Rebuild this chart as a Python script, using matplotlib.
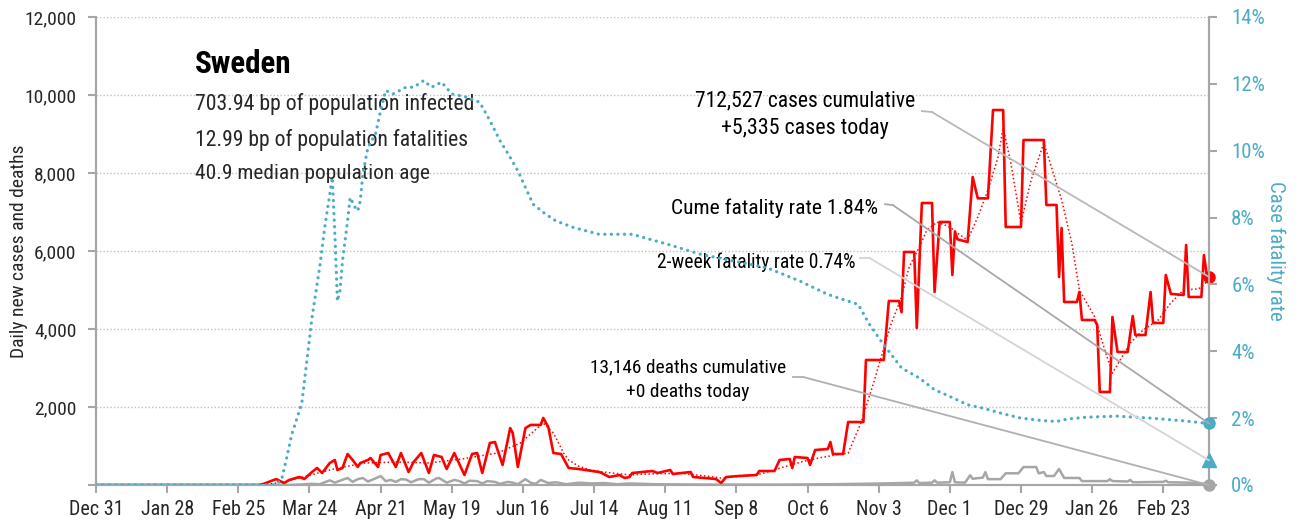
import matplotlib
matplotlib.use("Agg")
import matplotlib.pyplot as plt
import matplotlib.font_manager as fm
import matplotlib.dates as mdates
from matplotlib.patches import ConnectionPatch
import pandas as pd
import numpy as np

# ---------------- data (days since Dec 31, 2019) ----------------
start = pd.Timestamp("2019-12-31")
end_day = 438

case_days = [0, 64, 66, 70, 71, 74, 76, 80, 82, 85, 87, 89, 92, 94, 95, 97, 99, 101, 103, 104, 107, 108,
             111, 112, 115, 118, 120, 123, 125, 128, 131, 133, 136, 138, 141, 145, 148, 150, 152, 155,
             157, 160, 163, 164, 166, 169, 171, 175, 176, 178, 180, 183, 186, 190, 198, 199, 202, 206,
             208, 210, 211, 219, 221, 226, 227, 234, 235, 244, 246, 248, 253, 260, 261, 267, 269, 273,
             274, 275, 280, 281, 283, 288, 289, 290, 294, 296, 302, 303, 310, 312, 316, 317, 318, 322,
             323, 325, 329, 330, 332, 336, 337, 338, 339, 343, 345, 347, 351, 353, 357, 358, 364, 365,
             373, 374, 378, 379, 380, 381, 386, 387, 388, 393, 394, 395, 399, 400, 402, 406, 408, 409,
             413, 415, 416, 420, 421, 423, 428, 429, 430, 435, 436, 437, 438]
case_vals = [0, 0, 30, 130, 150, 50, 128, 205, 154, 333, 436, 308, 564, 641, 385, 436, 795, 641, 462, 564,
             641, 692, 462, 769, 820, 462, 820, 333, 590, 820, 308, 769, 718, 410, 820, 256, 795, 820, 308,
             1077, 1102, 513, 1460, 1333, 462, 1460, 1540, 1540, 1720, 1487, 820, 795, 436, 410, 333, 308,
             205, 256, 180, 205, 308, 359, 308, 385, 282, 333, 205, 154, 50, 205, 231, 256, 359, 359, 641,
             667, 436, 718, 692, 513, 897, 923, 1102, 795, 795, 1615, 1615, 3205, 3205, 4718, 4718, 4430,
             5974, 5974, 4026, 7230, 7230, 4949, 6744, 6744, 5385, 6500, 6300, 6231, 7897, 7350, 7350, 9615,
             9615, 6615, 6615, 8846, 8846, 7180, 7180, 5333, 6590, 4692, 4692, 4950, 4231, 4231, 4100, 2385,
             2385, 4308, 3410, 3410, 4333, 3846, 3846, 4949, 4154, 4154, 5385, 4900, 4872, 6154, 4821, 4821,
             5897, 5450, 5335]

avg_days = [0, 64, 70, 75, 83, 92, 105, 118, 131, 144, 158, 167, 176, 180, 184, 186, 190, 195, 200, 210,
            220, 230, 240, 246, 255, 262, 270, 278, 285, 292, 296, 301, 306, 309, 313, 317, 320, 324, 327,
            331, 336, 339, 343, 347, 351, 355, 357, 360, 364, 368, 373, 376, 380, 384, 387, 393, 397, 400,
            403, 407, 412, 418, 423, 428, 434, 438]
avg_vals = [0, 0, 40, 100, 230, 385, 560, 590, 564, 667, 820, 1077, 1590, 1333, 820, 640, 480, 380, 330,
            260, 290, 300, 230, 180, 230, 290, 450, 600, 700, 780, 820, 1590, 2615, 3280, 4150, 4820, 5590,
            6100, 6540, 6740, 6615, 6460, 6280, 6870, 7560, 8410, 9180, 8260, 6720, 7820, 8770, 8150, 7310,
            6200, 5000, 4310, 3460, 2870, 3200, 3640, 3970, 4230, 4670, 5000, 5030, 5260]

death_days = [0, 75, 80, 85, 88, 92, 94, 96, 99, 101, 103, 105, 107, 110, 112, 114, 116, 118, 120, 122,
              124, 127, 129, 131, 134, 135, 138, 141, 143, 145, 147, 150, 152, 154, 157, 159, 162, 164,
              166, 169, 171, 173, 175, 178, 181, 185, 190, 195, 200, 205, 210, 220, 230, 240, 250, 260,
              270, 280, 290, 300, 310, 317, 322, 323, 324, 329, 330, 331, 336, 337, 338, 342, 344, 345,
              349, 350, 351, 356, 358, 363, 365, 370, 371, 373, 374, 377, 379, 381, 387, 388, 398, 399,
              400, 406, 407, 408, 420, 421, 422, 430, 437, 438]
death_vals = [0, 0, 10, 30, 20, 120, 60, 110, 180, 80, 150, 180, 90, 170, 230, 100, 130, 80, 150, 140,
              70, 150, 150, 60, 170, 180, 60, 130, 100, 40, 110, 100, 40, 100, 80, 30, 80, 60, 20, 150,
              60, 30, 130, 50, 70, 20, 60, 40, 50, 20, 40, 20, 15, 10, 10, 10, 10, 15, 20, 30, 40, 50, 60,
              120, 50, 60, 120, 60, 70, 330, 70, 60, 250, 160, 190, 330, 150, 150, 300, 300, 460, 460, 300,
              330, 230, 230, 410, 180, 180, 100, 100, 150, 100, 90, 130, 70, 80, 110, 70, 60, 30, 0]

cfr_days = [0, 70, 73, 75, 77, 81, 85, 88, 90, 92, 93, 94, 95, 96, 97, 99, 100, 102, 103, 104, 105, 107,
            110, 112, 114, 117, 122, 125, 129, 132, 136, 140, 146, 151, 155, 159, 163, 166, 172, 177, 181,
            188, 198, 211, 225, 238, 251, 264, 277, 288, 300, 304, 309, 317, 324, 330, 336, 343, 349, 356,
            364, 372, 378, 382, 390, 402, 415, 428, 438]
cfr_vals = [0, 0, 0.15, 0.8, 1.5, 2.45, 5.0, 6.5, 7.7, 8.7, 9.2, 7.5, 5.5, 5.8, 6.7, 7.9, 8.6, 8.3, 8.2,
            8.5, 9.3, 10.1, 10.5, 11.2, 11.8, 11.7, 11.9, 11.9, 12.1, 11.9, 12.05, 11.7, 11.6, 11.45, 10.9,
            10.3, 9.8, 9.4, 8.4, 8.1, 7.9, 7.7, 7.5, 7.5, 7.2, 6.9, 6.7, 6.5, 6.1, 5.7, 5.4, 4.85, 4.3, 3.5,
            3.2, 2.85, 2.65, 2.4, 2.3, 2.15, 2.0, 1.93, 1.9, 1.97, 2.03, 2.06, 2.0, 1.92, 1.84]

two_week_cfr = 0.74
country = "Sweden"
stats = ["703.94 bp of population infected",
         "12.99 bp of population fatalities",
         "40.9 median population age"]
cases_text = ["712,527 cases cumulative", "+5,335 cases today"]
deaths_text = ["13,146 deaths cumulative", "+0 deaths today"]
cume_text = "Cume fatality rate 1.84%"
twoweek_text = "2-week fatality rate 0.74%"

tick_days = list(range(0, 421, 28))

# ---------------- style ----------------
names = {f.name for f in fm.fontManager.ttflist}
cond = [f.name for f in fm.fontManager.ttflist
        if str(f.stretch) in ("condensed", "semi-condensed", "extra-condensed", "ultra-condensed")
        or "Condensed" in f.name or "Narrow" in f.name]
FONT = "DejaVu Sans"
for cand in ["Roboto Condensed", "Liberation Sans Narrow", "Open Sans Condensed",
             "Noto Sans Condensed", "DejaVu Sans Condensed"]:
    if cand in names:
        FONT = cand
        break
else:
    if cond:
        FONT = sorted(cond)[0]
plt.rcParams["font.family"] = [FONT, "DejaVu Sans"]

RED = "#FF0000"
BLUE = "#4BACC6"
GRAY = "#A6A6A6"
TXT = "#262626"

def to_dates(days):
    return start + pd.to_timedelta(days, unit="D")

W, H = 1308, 524
fig = plt.figure(figsize=(W / 100, H / 100), dpi=100)
ax = fig.add_axes([96 / W, 1 - 485 / H, 1113 / W, 468 / H])
ax2 = ax.twinx()

ax.plot(to_dates(death_days), death_vals, color=GRAY, lw=1.8, zorder=3)
ax.plot(to_dates(avg_days), avg_vals, color=RED, lw=1.1, ls=(0, (1, 1.6)), zorder=4)
ax.plot(to_dates(case_days), case_vals, color=RED, lw=1.9, zorder=5)
ax2.plot(to_dates(cfr_days), cfr_vals, color=BLUE, lw=2.3, ls=(0, (0.05, 2.0)),
         dash_capstyle="round", zorder=4)

end_date = to_dates([end_day])[0]
end_num = mdates.date2num(end_date)
ax.plot([end_date], [case_vals[-1]], "o", color=RED, ms=8, zorder=6, clip_on=False)
ax.plot([end_date], [death_vals[-1]], "o", color=GRAY, ms=8, zorder=6, clip_on=False)
ax2.plot([end_date], [cfr_vals[-1]], "o", color=BLUE, ms=8, zorder=6, clip_on=False)
ax2.plot([end_date], [two_week_cfr], "^", color=BLUE, ms=10, zorder=6, clip_on=False)

ax.set_xlim(start, end_date)
ax.set_ylim(0, 12000)
ax2.set_ylim(0, 14)

ax.set_yticks(range(0, 12001, 2000))
ax.set_yticklabels([""] + [f"{v:,}" for v in range(2000, 12001, 2000)])
ax2.set_yticks(range(0, 15, 2))
ax2.set_yticklabels([f"{v}%" for v in range(0, 15, 2)])
tick_dates = to_dates(tick_days)
ax.set_xticks(tick_dates)
ax.set_xticklabels([f"{d:%b} {d.day}" for d in tick_dates])

ax.grid(axis="y", linestyle=(0, (1, 1.5)), color="#BFBFBF", lw=1)
ax.set_axisbelow(True)
for a in (ax, ax2):
    a.spines["top"].set_visible(False)
    for s in ("left", "right", "bottom"):
        a.spines[s].set_color(GRAY)
        a.spines[s].set_linewidth(1.5)
ax.tick_params(axis="x", colors=GRAY, labelcolor=TXT, labelsize=14.5, length=6, width=1.5, pad=5)
ax.tick_params(axis="y", colors=GRAY, labelcolor=TXT, labelsize=14, length=6, width=1.5, pad=8)
ax2.tick_params(axis="y", colors=GRAY, labelcolor=BLUE, labelsize=15, length=6, width=1.5, pad=10)

ax.set_ylabel("Daily new cases and deaths", fontsize=14, color=TXT)
ax.yaxis.set_label_coords(-0.061, 0.5)
ax2.set_ylabel("Case fatality rate", fontsize=15, color=BLUE, rotation=270, labelpad=15)

# ---------------- text ----------------
renderer = fig.canvas.get_renderer()

def fit_text(x, y, s, width_px, max_size, **kw):
    t = ax.text(x, y, s, transform=ax.transAxes, fontsize=max_size, **kw)
    w = t.get_window_extent(renderer=renderer).width
    if w > 0:
        t.set_fontsize(min(max_size * 1.15, max_size * width_px / w))
    return t

fit_text(0.089, 0.90, country, 97, 24, fontweight="bold", color="black", va="center", ha="left")
for t, fy, wpx in zip(stats, [0.814, 0.737, 0.665], [280, 273, 235]):
    fit_text(0.089, fy, t, wpx, 16, color=TXT, va="center", ha="left")

fit_text(0.637, 0.821, cases_text[0], 221, 16, color="black", ha="center", va="center")
fit_text(0.637, 0.762, cases_text[1], 169, 16, color="black", ha="center", va="center")
fit_text(0.7026, 0.592, cume_text, 207, 16, color="black", ha="right", va="center")
fit_text(0.682, 0.4765, twoweek_text, 198, 15, color="black", ha="right", va="center")
fit_text(0.532, 0.252, deaths_text[0], 196, 15, color="black", ha="center", va="center")
fit_text(0.532, 0.199, deaths_text[1], 123, 15, color="black", ha="center", va="center")

def leader(p0, p1, target, tax, color):
    ax.plot([p0[0], p1[0]], [p0[1], p1[1]], transform=ax.transAxes, color=color, lw=1.3,
            clip_on=False, zorder=2)
    con = ConnectionPatch(xyA=p1, coordsA=ax.transAxes, xyB=target, coordsB=tax.transData,
                          color=color, lw=1.3, zorder=2)
    fig.add_artist(con)

leader((0.742, 0.799), (0.751, 0.797), (end_num, case_vals[-1]), ax, "#B8B8B8")
leader((0.709, 0.600), (0.716, 0.598), (end_num, cfr_vals[-1]), ax2, "#A8A8A8")
leader((0.686, 0.485), (0.695, 0.485), (end_num, two_week_cfr), ax2, "#D4D4D4")
leader((0.626, 0.231), (0.635, 0.231), (end_num, death_vals[-1]), ax, "#B0B0B0")

fig.savefig("out.png", dpi=100)
